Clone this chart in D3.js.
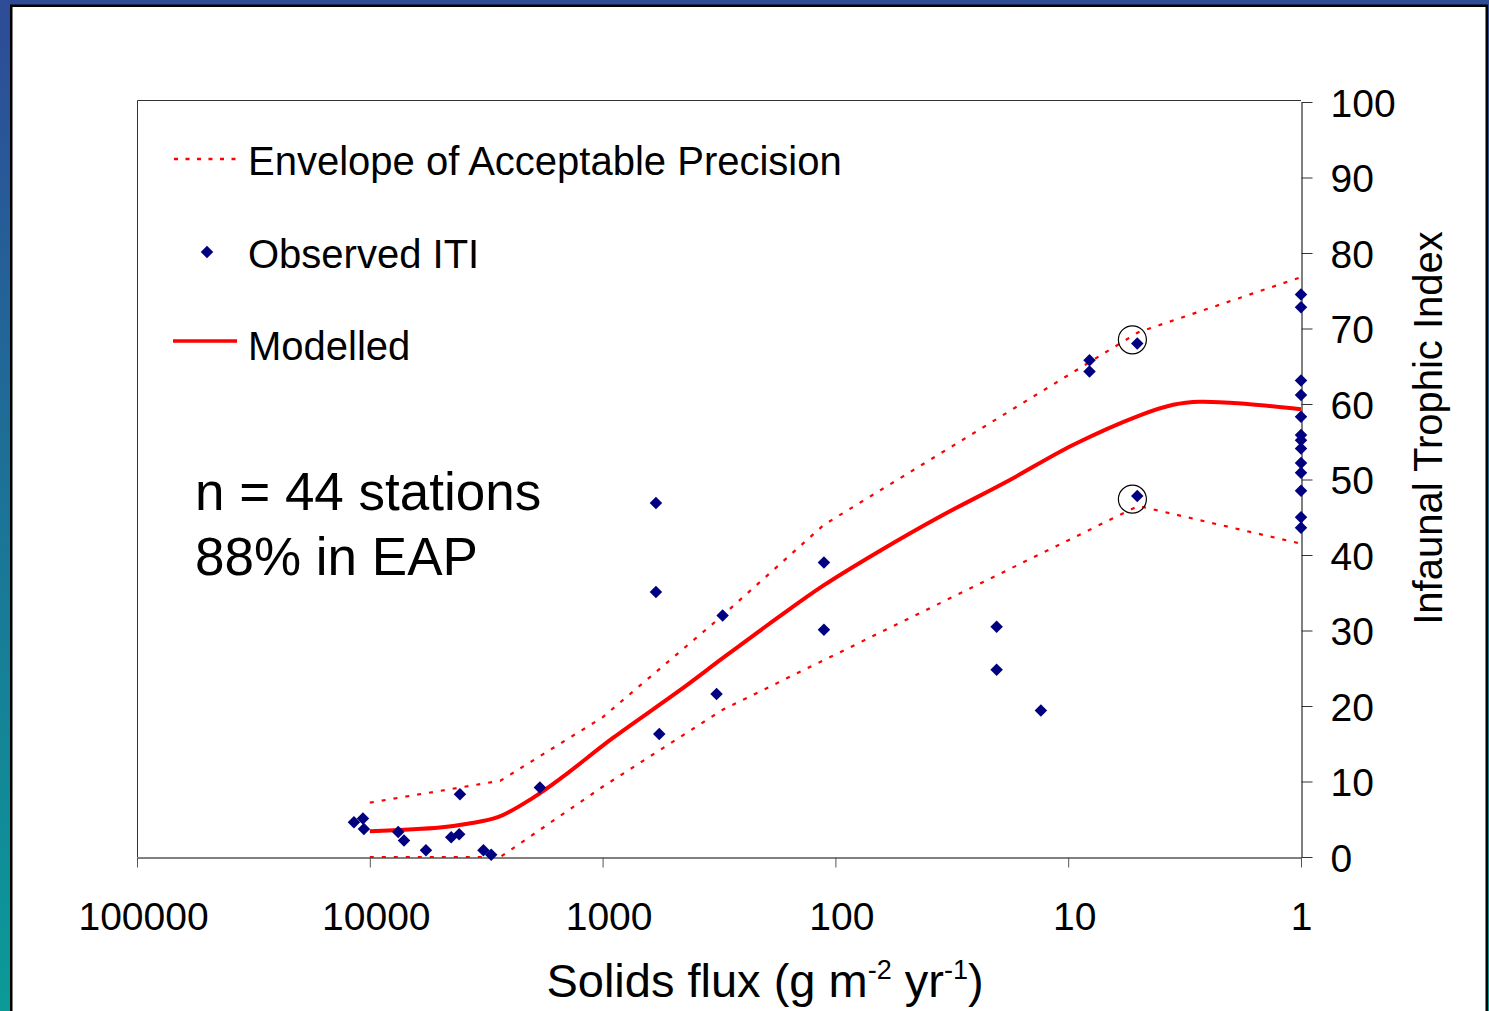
<!DOCTYPE html>
<html>
<head>
<meta charset="utf-8">
<script src="https://cdn.jsdelivr.net/npm/d3@7"></script>
<style>
  body { margin: 0; background: #fff; }
  svg { display: block; font-family: "Liberation Sans", Arial, sans-serif; }
</style>
</head>
<body>
<div id="chart"></div>
<script>
// Tick labels
const fluxTicks = [100000, 10000, 1000, 100, 10, 1];
const itiTicks = [0, 10, 20, 30, 40, 50, 60, 70, 80, 90, 100];

// Observed ITI per station (solids flux, ITI)
const obsFlux = [11700, 10700, 10600, 7550, 7130, 5740, 4470, 4130, 4100, 3250, 3010, 1860,
  590, 590, 571, 305, 324, 112, 112, 20.3, 20.3, 13.1, 8.1, 8.1, 5.05, 5.05,
  1, 1, 1, 1, 1, 1, 1, 1, 1, 1, 1, 1, 1];
const obsIti = [4.6, 5.1, 3.7, 3.3, 2.2, 0.9, 2.6, 3.0, 8.3, 0.9, 0.3, 9.2,
  46.9, 35.1, 16.3, 32.0, 21.6, 39.0, 30.1, 30.5, 24.8, 19.4, 65.8, 64.3, 68.0, 47.8,
  74.5, 72.8, 63.1, 61.2, 58.3, 55.9, 55.2, 54.1, 52.2, 50.9, 48.5, 45.0, 43.6];

// Modelled curve
const modelFlux = [10000, 5000, 3800, 2800, 2000, 1500, 900, 465, 300, 175, 112, 64, 35.5, 18.4,
  9.5, 4.92, 3.54, 2.72, 1.7, 1];
const modelIti = [3.4, 3.9, 4.4, 5.3, 7.8, 10.5, 15.8, 22.1, 26.5, 31.8, 36.0, 40.6, 45.1, 49.7,
  54.6, 58.5, 59.9, 60.3, 60.0, 59.3];

// Envelope of acceptable precision
const upperFlux = [10000, 2750, 1000, 305, 112, 5, 1];
const upperIti = [7.2, 10.1, 18.5, 32.0, 44.0, 69.5, 76.8];
const lowerFlux = [10000, 2750, 1000, 305, 5, 1];
const lowerIti = [0, 0, 9.3, 19.5, 46.5, 41.5];

// Circled stations
const circleFlux = [5.3, 5.3];
const circleIti = [68.5, 47.4];

const width = 1489, height = 1011;
const plot = { left: 137, right: 1301, top: 101, bottom: 857 };
const font = '"Liberation Sans", Arial, sans-serif';

const x = d3.scaleLog().domain([100000, 1]).range([plot.left, plot.right]);
const y = d3.scaleLinear().domain([0, 100]).range([plot.bottom, 102]);

const svg = d3.select("#chart").append("svg")
  .attr("width", width)
  .attr("height", height)
  .attr("viewBox", [0, 0, width, height]);

// slide frame
const grad = svg.append("defs").append("linearGradient")
  .attr("id", "bg").attr("x1", 0).attr("y1", 0).attr("x2", 0).attr("y2", 1);
grad.append("stop").attr("offset", 0).attr("stop-color", "#2e4b97");
grad.append("stop").attr("offset", 1).attr("stop-color", "#0a9b97");
svg.append("rect").attr("width", width).attr("height", height).attr("fill", "url(#bg)");
svg.append("rect")
  .attr("x", 11.25).attr("y", 5.75).attr("width", 1475.5).attr("height", 1020)
  .attr("fill", "#fff").attr("stroke", "#000").attr("stroke-width", 2.5);

// plot frame
svg.append("path")
  .attr("d", `M${plot.left + 0.5},${plot.bottom}V100.5H${plot.right}`)
  .attr("fill", "none").attr("stroke", "#333").attr("stroke-width", 1);

// x axis
svg.append("g")
  .attr("transform", `translate(0,${plot.bottom + 0.5})`)
  .call(d3.axisBottom(x).tickValues(fluxTicks).tickFormat(d3.format("d"))
    .tickSize(10).tickSizeOuter(0).tickPadding(35))
  .call(g => g.select(".domain").attr("stroke", "#000"))
  .call(g => g.selectAll(".tick line").attr("stroke", "#555"))
  .call(g => g.selectAll(".tick text")
    .attr("font-family", font).attr("font-size", 39).attr("fill", "#000")
    .attr("dx", d => d === 1 ? 0 : 6));

// y axis (right)
svg.append("g")
  .attr("transform", `translate(${plot.right + 0.5},0)`)
  .call(d3.axisRight(y).tickValues(itiTicks).tickSize(11).tickSizeOuter(0).tickPadding(18))
  .call(g => g.select(".domain").attr("stroke", "#000"))
  .call(g => g.selectAll(".tick line").attr("stroke", "#333"))
  .call(g => g.selectAll(".tick text")
    .attr("font-family", font).attr("font-size", 39).attr("fill", "#000").attr("dy", "0.37em"));

const line = d3.line()
  .x(d => x(d[0]))
  .y(d => y(d[1]));

// envelope
[[upperFlux, upperIti], [lowerFlux, lowerIti]].forEach(([fx, it]) => {
  svg.append("path")
    .datum(fx.map((f, i) => [f, it[i]]))
    .attr("d", line)
    .attr("fill", "none")
    .attr("stroke", "#ff0000")
    .attr("stroke-width", 2.2)
    .attr("stroke-dasharray", "4,8");
});

// modelled
svg.append("path")
  .datum(modelFlux.map((f, i) => [f, modelIti[i]]))
  .attr("d", line.curve(d3.curveCatmullRom.alpha(0.5)))
  .attr("fill", "none")
  .attr("stroke", "#ff0000")
  .attr("stroke-width", 4)
  .attr("stroke-linejoin", "round");

// observed
const diamond = d3.symbol(d3.symbolSquare, 78);
svg.append("g")
  .attr("fill", "#000080")
  .selectAll("path")
  .data(obsFlux.map((f, i) => [f, obsIti[i]]))
  .join("path")
  .attr("transform", d => `translate(${x(d[0])},${y(d[1])}) rotate(45)`)
  .attr("d", diamond);

// circled stations
svg.append("g")
  .selectAll("circle")
  .data(circleFlux.map((f, i) => [f, circleIti[i]]))
  .join("circle")
  .attr("cx", d => x(d[0]))
  .attr("cy", d => y(d[1]))
  .attr("r", 14)
  .attr("fill", "none")
  .attr("stroke", "#000")
  .attr("stroke-width", 1.2);

// legend
const legend = svg.append("g").attr("font-size", 40).attr("fill", "#000");
legend.append("line")
  .attr("x1", 174).attr("x2", 240).attr("y1", 159).attr("y2", 159)
  .attr("stroke", "#ff0000").attr("stroke-width", 2.5).attr("stroke-dasharray", "4,7.5");
legend.append("text").attr("x", 248).attr("y", 175).text("Envelope of Acceptable Precision");
legend.append("path")
  .attr("transform", "translate(207,252) rotate(45)")
  .attr("d", diamond).attr("fill", "#000080");
legend.append("text").attr("x", 248).attr("y", 268).text("Observed ITI");
legend.append("line")
  .attr("x1", 173).attr("x2", 237).attr("y1", 341).attr("y2", 341)
  .attr("stroke", "#ff0000").attr("stroke-width", 3.5);
legend.append("text").attr("x", 248).attr("y", 360).text("Modelled");

// annotation
svg.append("text").attr("x", 195).attr("y", 510).attr("font-size", 53).text("n = 44 stations");
svg.append("text").attr("x", 195).attr("y", 575).attr("font-size", 53).text("88% in EAP");

// axis titles
svg.append("text")
  .attr("transform", "translate(1442,428) rotate(-90)")
  .attr("text-anchor", "middle")
  .attr("font-size", 40)
  .text("Infaunal Trophic Index");

const xt = svg.append("text")
  .attr("x", 765).attr("y", 997)
  .attr("text-anchor", "middle")
  .attr("font-size", 47);
xt.append("tspan").text("Solids flux (g m");
xt.append("tspan").attr("font-size", 27).attr("dy", -18).text("-2");
xt.append("tspan").attr("dy", 18).text(" yr");
xt.append("tspan").attr("font-size", 27).attr("dy", -18).text("-1");
xt.append("tspan").attr("dy", 18).text(")");
</script>
</body>
</html>
